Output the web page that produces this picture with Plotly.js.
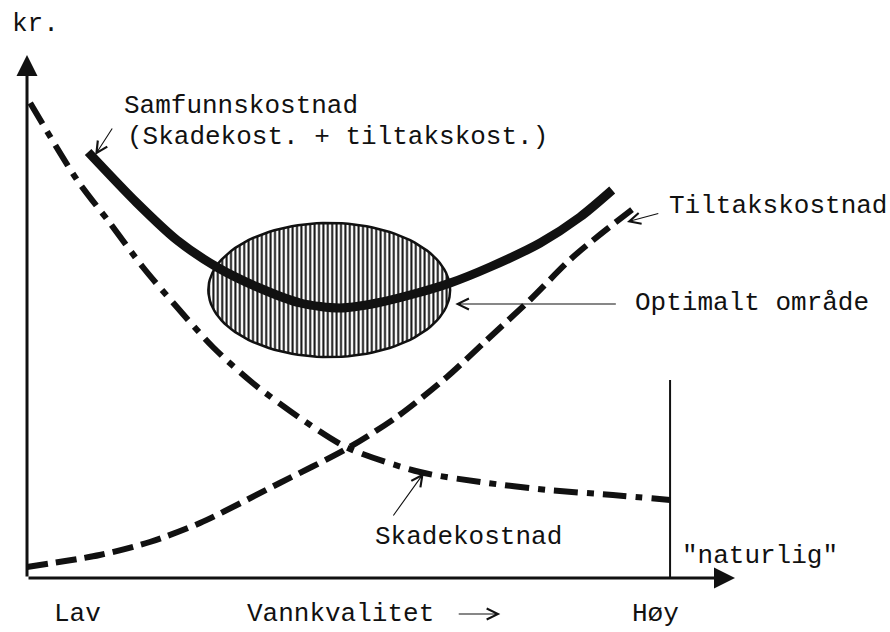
<!DOCTYPE html>
<html>
<head>
<meta charset="utf-8">
<script src="https://cdn.plot.ly/plotly-3.0.1.min.js"></script>
<style>
  body { margin: 0; background: #fff; }
  #chart { width: 890px; height: 632px; }
</style>
</head>
<body>
<div id="chart"></div>
<script>
// x: vannkvalitet (0 = lav, 100 = "naturlig"), y: kr.
const tiltakX = [0, 11.3, 19.1, 26.9, 39.3, 49.9, 57.5, 65.3, 71.5, 78.2, 84.9, 94.6];
const tiltakY = [2.2, 4.6, 7.2, 11.0, 19.0, 26.0, 32.2, 40.2, 47.6, 55.6, 64.2, 74.2];

const skadeX = [0.5, 7.8, 12.9, 18.0, 23.3, 28.9, 35.1, 42.9, 49.9, 61.1, 70.5, 80.9, 91.1, 100];
const skadeY = [95, 79.6, 71.0, 62.2, 54.2, 46.2, 39.0, 31.6, 26.0, 21.2, 19.2, 17.6, 16.6, 15.6];

const samfunnX = [9.5, 17.1, 23.3, 29.5, 35.8, 42.5, 48.7, 54.4, 60.7, 65.8, 72.0, 79.8, 86.0, 91.0];
const samfunnY = [85.2, 75.0, 67.6, 62.2, 58.2, 55.0, 54.0, 55.0, 57.0, 59.0, 62.2, 67.0, 72.2, 77.6];

// optimalt område (ellipse)
const optCenter = [47.0, 57.6];
const optRadius = [18.8, 13.4];

// "naturlig" level
const naturligX = 100;
const naturligTop = 39.6;

// axis ends
const xAxisEnd = 110.1;
const yAxisEnd = 104.6;

const labelTexts = ["kr.", "Samfunnskostnad", "(Skadekost. + tiltakskost.)", "Tiltakskostnad",
  "Optimalt område", "Skadekostnad", "\"naturlig\"", "Lav", "Vannkvalitet", "Høy"];
const labelX = [-2.6, 14.8, 15.2, 99.5, 94.2, 53.8, 101.6, 3.9, 33.9, 93.8];
const labelY = [110.8, 94.4, 88.2, 74.4, 55.0, 8.2, 4.4, -7.2, -7.2, -7.2];

// pointer arrows: tip and tail
const pointerTipX = [10.6, 93.3, 66.6, 61.7, 73.6];
const pointerTipY = [84.6, 71.2, 54.8, 21.0, -7.2];
const pointerTailX = [13.4, 98.4, 91.8, 56.8, 66.9];
const pointerTailY = [90.2, 73.0, 54.8, 12.2, -7.2];

const ink = "#111";
const font = { family: "Liberation Mono, Courier New, monospace", size: 26, color: ink };

const ellX = [], ellY = [];
for (let i = 0; i <= 120; i++) {
  const t = (i / 120) * 2 * Math.PI;
  ellX.push(optCenter[0] + optRadius[0] * Math.cos(t));
  ellY.push(optCenter[1] + optRadius[1] * Math.sin(t));
}

const traces = [
  {
    x: ellX, y: ellY, mode: "lines", type: "scatter",
    fill: "toself", fillcolor: "white",
    fillpattern: { shape: "|", fgcolor: ink, bgcolor: "white", size: 4.4, solidity: 0.45 },
    line: { color: ink, width: 2.5 },
  },
  {
    x: [naturligX, naturligX], y: [0, naturligTop], mode: "lines", type: "scatter",
    line: { color: ink, width: 2 },
  },
  {
    x: tiltakX, y: tiltakY, mode: "lines", type: "scatter",
    line: { color: ink, width: 6, dash: "21px,8px", shape: "spline", smoothing: 0.8 },
  },
  {
    x: skadeX, y: skadeY, mode: "lines", type: "scatter",
    line: { color: ink, width: 6, dash: "24px,9px,7px,9px", shape: "spline", smoothing: 0.8 },
  },
  {
    x: samfunnX, y: samfunnY, mode: "lines", type: "scatter",
    line: { color: ink, width: 9, shape: "spline", smoothing: 0.8 },
  },
];

const annotations = [];

// axes with arrowheads
annotations.push({ x: xAxisEnd, y: 0, ax: 0, ay: 0, xref: "x", yref: "y", axref: "x", ayref: "y",
  showarrow: true, arrowhead: 2, arrowsize: 1.4, arrowwidth: 3, arrowcolor: ink, text: "" });
annotations.push({ x: 0, y: yAxisEnd, ax: 0, ay: 0, xref: "x", yref: "y", axref: "x", ayref: "y",
  showarrow: true, arrowhead: 2, arrowsize: 1.4, arrowwidth: 3, arrowcolor: ink, text: "" });

pointerTipX.forEach((x, i) => {
  annotations.push({
    x: x, y: pointerTipY[i], ax: pointerTailX[i], ay: pointerTailY[i],
    xref: "x", yref: "y", axref: "x", ayref: "y",
    showarrow: true, arrowhead: 5, arrowsize: 2, arrowwidth: 1.1, arrowcolor: ink, text: "",
  });
});

labelTexts.forEach((t, i) => {
  annotations.push({
    x: labelX[i], y: labelY[i], xref: "x", yref: "y", text: t, showarrow: false,
    xanchor: "left", yanchor: "middle", font: font,
  });
});

const layout = {
  width: 890,
  height: 632,
  margin: { l: 0, r: 0, t: 0, b: 0 },
  paper_bgcolor: "white",
  plot_bgcolor: "white",
  showlegend: false,
  hovermode: false,
  xaxis: { range: [-4.2, 134.2], visible: false, fixedrange: true },
  yaxis: { range: [-10.8, 115.6], visible: false, fixedrange: true },
  annotations: annotations,
};

Plotly.newPlot("chart", traces, layout, { staticPlot: true, displayModeBar: false });
</script>
</body>
</html>
